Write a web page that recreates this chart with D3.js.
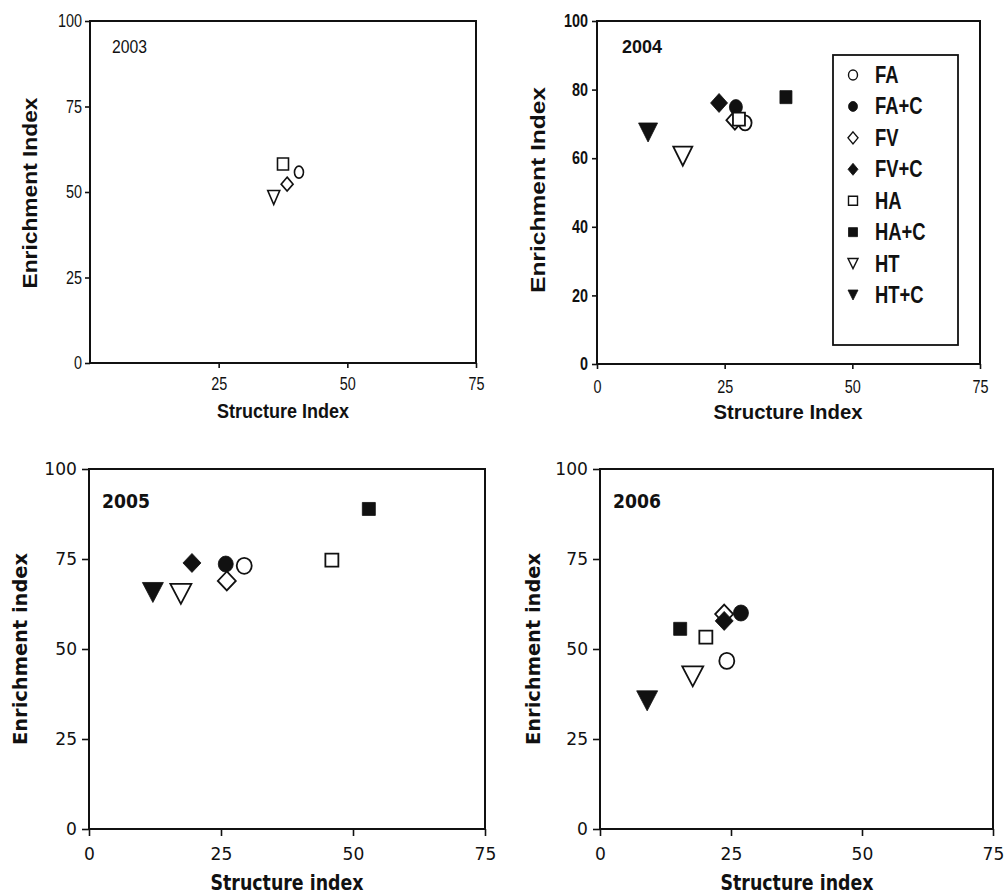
<!DOCTYPE html>
<html><head><meta charset="utf-8">
<script src="https://cdn.jsdelivr.net/npm/d3@7"></script>
<style>body{margin:0;background:#fff} svg{display:block}</style>
</head><body>
<svg id="c" width="1004" height="894"></svg>
<script>
// ---- data ----
const categories = ["FA", "FA+C", "FV", "FV+C", "HA", "HA+C", "HT", "HT+C"];
const filled     = [false, true, false, true, false, true, false, true];
const shapes     = ["circle", "circle", "diamond", "diamond", "square", "square", "tri", "tri"];
const years      = ["2003", "2004", "2005", "2006"];

// Structure index (x) and Enrichment index (y) per treatment
const si2003 = [40.6, null, 38.3, null, 37.5, null, 35.7, null];
const ei2003 = [55.8, null, 52.3, null, 58.2, null, 48.4, null];
const si2004 = [29.0, 27.2, 27.0, 23.9, 27.8, 37.0, 16.8, 10.0];
const ei2004 = [70.3, 74.9, 71.1, 76.1, 71.4, 77.8, 60.6, 67.5];
const si2005 = [29.4, 25.9, 26.1, 19.5, 46.0, 53.0, 17.4, 12.1];
const ei2005 = [73.1, 73.6, 68.9, 73.9, 74.7, 88.9, 65.3, 65.7];
const si2006 = [24.2, 26.9, 23.7, 23.7, 20.2, 15.3, 17.7, 9.0];
const ei2006 = [46.7, 60.0, 59.7, 57.8, 53.3, 55.6, 42.4, 35.6];

const xTicks2003 = [25, 50, 75];
const xTicks     = [0, 25, 50, 75];
const yTicks25   = [0, 25, 50, 75, 100];
const yTicks20   = [0, 20, 40, 60, 80, 100];

const xTitleUpper = "Structure Index", yTitleUpper = "Enrichment Index";
const xTitleLower = "Structure index", yTitleLower = "Enrichment index";

// ---- styles ----
const NARROW = "'Liberation Sans',Arial,sans-serif";
const ARIAL = "'Liberation Sans',Arial,sans-serif";
const VERD = "'DejaVu Sans',Verdana,sans-serif";
const INK = "#111";

const sizesSmall = {circle:[9,12], square:[11,12], diamond:[12,14], tri:[12,14]};
const sizesMid   = {circle:[13,15], square:[12,13], diamond:[17,19], tri:[19,19]};
const sizesBig   = {circle:[15,16], square:[13,13], diamond:[18,19], tri:[21,20]};
const sizesLeg   = {circle:[9,10], square:[9,9], diamond:[10,12], tri:[10,10]};

function markerPath(shape, w, h) {
  const a = w / 2, b = h / 2;
  if (shape === "circle") return `M${-a},0A${a},${b} 0 1,0 ${a},0A${a},${b} 0 1,0 ${-a},0Z`;
  if (shape === "square") return `M${-a},${-b}H${a}V${b}H${-a}Z`;
  if (shape === "diamond") return `M0,${-b}L${a},0L0,${b}L${-a},0Z`;
  return `M${-a},${-b}L${a},${-b}L0,${b}Z`;
}

// emulate a condensed face by squeezing glyphs horizontally
function squeeze(sel, k) {
  sel.each(function() {
    const L = this.getComputedTextLength();
    d3.select(this).attr("textLength", L * k).attr("lengthAdjust", "spacingAndGlyphs");
  });
}

const panels = [
  {year: years[0], si: si2003, ei: ei2003, xr: [90, 476], yr: [363, 21], xt: xTicks2003, yt: yTicks25,
   font: NARROW, narrow: true, tickFs: 18, yTickBold: false, yearBold: false, yearFs: 19, yearX: 112, yearY: 53, yearLen: 35,
   tick: 5, xpad: 9, ypad: 3, sizes: sizesSmall, sw: 1.6,
   xTitle: xTitleUpper, xtFont: ARIAL, xtFs: 20, xtX: 283, xtY: 418, xtLen: 132,
   yTitle: yTitleUpper, ytX: 37, ytY: 193, ytLen: 191},
  {year: years[1], si: si2004, ei: ei2004, xr: [597, 980], yr: [364, 21], xt: xTicks, yt: yTicks20,
   font: NARROW, narrow: true, tickFs: 18, yTickBold: true, yearBold: true, yearFs: 19, yearX: 622, yearY: 53, yearLen: 40,
   tick: 5, xpad: 11, ypad: 4, sizes: sizesMid, sw: 1.8, legend: true,
   xTitle: xTitleUpper, xtFont: ARIAL, xtFs: 20, xtX: 788, xtY: 419, xtLen: 149,
   yTitle: yTitleUpper, ytX: 545, ytY: 190, ytLen: 206},
  {year: years[2], si: si2005, ei: ei2005, xr: [89, 485], yr: [829, 469], xt: xTicks, yt: yTicks25,
   font: VERD, narrow: false, tickFs: 18, yTickBold: false, yearBold: true, yearFs: 19, yearX: 102, yearY: 508, yearLen: 48,
   tick: 7, xpad: 11, ypad: 5, sizes: sizesBig, sw: 1.8,
   xTitle: xTitleLower, xtFont: VERD, xtFs: 21, xtX: 287, xtY: 890, xtLen: 153,
   yTitle: yTitleLower, ytX: 27, ytY: 649, ytLen: 192},
  {year: years[3], si: si2006, ei: ei2006, xr: [600, 993], yr: [829, 469], xt: xTicks, yt: yTicks25,
   font: VERD, narrow: false, tickFs: 18, yTickBold: false, yearBold: true, yearFs: 19, yearX: 613, yearY: 508, yearLen: 48,
   tick: 7, xpad: 11, ypad: 5, sizes: sizesBig, sw: 1.8,
   xTitle: xTitleLower, xtFont: VERD, xtFs: 21, xtX: 797, xtY: 890, xtLen: 153,
   yTitle: yTitleLower, ytX: 540, ytY: 649, ytLen: 192}
];

const svg = d3.select("#c");
svg.append("rect").attr("width", 1004).attr("height", 894).attr("fill", "#fff");

panels.forEach(p => {
  const g = svg.append("g");
  const xs = d3.scaleLinear().domain([0, 75]).range(p.xr);
  const ys = d3.scaleLinear().domain([0, 100]).range(p.yr);

  // axes
  const xa = g.append("g").attr("transform", `translate(0,${ys(0)})`)
    .call(d3.axisBottom(xs).tickValues(p.xt).tickSizeInner(p.tick).tickSizeOuter(0).tickPadding(p.xpad).tickFormat(d3.format("d")));
  const ya = g.append("g").attr("transform", `translate(${xs(0)},0)`)
    .call(d3.axisLeft(ys).tickValues(p.yt).tickSizeInner(p.tick).tickSizeOuter(0).tickPadding(p.ypad).tickFormat(d3.format("d")));
  [xa, ya].forEach(a => {
    a.select(".domain").remove();
    a.selectAll(".tick line").attr("stroke", INK).attr("stroke-width", 1.6);
    a.selectAll(".tick text").attr("fill", INK).style("font-family", p.font).style("font-size", p.tickFs + "px");
  });
  ya.selectAll(".tick text").style("font-weight", p.yTickBold ? "bold" : "normal");
  if (p.narrow) { squeeze(xa.selectAll(".tick text"), 0.8); squeeze(ya.selectAll(".tick text"), 0.8); }
  else { squeeze(xa.selectAll(".tick text"), 0.95); squeeze(ya.selectAll(".tick text"), 0.95); }

  // frame
  g.append("rect")
    .attr("x", xs(0)).attr("y", ys(100))
    .attr("width", xs(75) - xs(0)).attr("height", ys(0) - ys(100))
    .attr("fill", "none").attr("stroke", INK).attr("stroke-width", 2);

  // year label
  g.append("text").attr("x", p.yearX).attr("y", p.yearY).text(p.year)
    .attr("fill", INK).style("font-family", p.font).style("font-size", p.yearFs + "px")
    .style("font-weight", p.yearBold ? "bold" : "normal")
    .attr("textLength", p.yearLen).attr("lengthAdjust", "spacingAndGlyphs");

  // axis titles
  g.append("text").attr("x", p.xtX).attr("y", p.xtY).attr("text-anchor", "middle").text(p.xTitle)
    .attr("fill", INK).style("font-family", p.xtFont).style("font-size", p.xtFs + "px").style("font-weight", "bold")
    .attr("textLength", p.xtLen).attr("lengthAdjust", "spacingAndGlyphs");
  g.append("text").attr("transform", `translate(${p.ytX},${p.ytY}) rotate(-90)`).attr("text-anchor", "middle").text(p.yTitle)
    .attr("fill", INK).style("font-family", p.xtFont).style("font-size", "20px").style("font-weight", "bold")
    .attr("textLength", p.ytLen).attr("lengthAdjust", "spacingAndGlyphs");

  // points
  const pts = categories.map((c, i) => ({c, i, x: p.si[i], y: p.ei[i]})).filter(d => d.x != null && d.y != null);
  g.selectAll("path.pt").data(pts).join("path").attr("class", "pt")
    .attr("transform", d => `translate(${xs(d.x)},${ys(d.y)})`)
    .attr("d", d => { const s = p.sizes[shapes[d.i]]; return markerPath(shapes[d.i], s[0], s[1]); })
    .attr("fill", d => filled[d.i] ? INK : "#fff")
    .attr("stroke", INK)
    .attr("stroke-width", d => filled[d.i] ? 0.8 : p.sw);

  // legend
  if (p.legend) {
    const lg = g.append("g");
    lg.append("rect").attr("x", 833).attr("y", 55).attr("width", 125).attr("height", 290)
      .attr("fill", "#fff").attr("stroke", INK).attr("stroke-width", 1.8);
    const ly = d3.scalePoint().domain(categories).range([75, 295]);
    categories.forEach((c, i) => {
      const s = sizesLeg[shapes[i]];
      lg.append("path").attr("transform", `translate(853,${ly(c)})`)
        .attr("d", markerPath(shapes[i], s[0], s[1]))
        .attr("fill", filled[i] ? INK : "#fff").attr("stroke", INK).attr("stroke-width", filled[i] ? 0.8 : 1.4);
      const t = lg.append("text").attr("x", 875).attr("y", ly(c) + 8).text(c)
        .attr("fill", INK).style("font-family", NARROW).style("font-size", "23px").style("font-weight", "bold");
      squeeze(t, 0.8);
    });
  }
});
</script>
</body></html>
